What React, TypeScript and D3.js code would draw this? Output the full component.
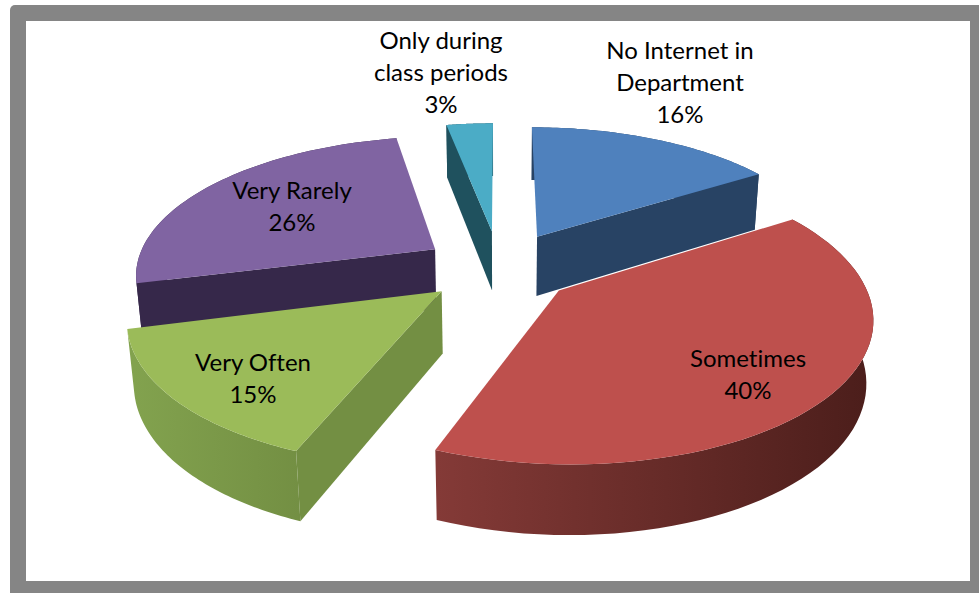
import React from "react";
import * as d3 from "d3";

// Share of respondents per answer, clockwise from twelve o'clock.
const categories = ["No Internet in Department", "Sometimes", "Very Often", "Very Rarely", "Only during class periods"];
const shares = [16, 40, 15, 26, 3];
const explosion = [0.27, 0.25, 0.25, 0.26, 0.28];
const labelLines = [["No Internet in", "Department", "16%"], ["Sometimes", "40%"], ["Very Often", "15%"], ["Very Rarely", "26%"], ["Only during", "class periods", "3%"]];

const topColors = ["#4f81bd", "#be504d", "#9bbb59", "#8064a2", "#4bacc6"];
const wallColors = ["#284364", "#6b2c2a", "#738f43", "#36284a", "#1f515e"];
const rimStops = [
  ["#284364", "#284364"],
  ["#843a37", "#4c1e1b"],
  ["#82a24e", "#738f43"],
  ["#36284a", "#36284a"],
  ["#1f515e", "#1f515e"],
];
const labelCenters = [[680, 59], [748, 367], [253, 371], [292, 199], [441, 49]];
const lineGap = 32;
const paintOrder = [4, 0, 3, 2, 1];

const W = 979, H = 593;
const view = { cx: 499.5, cy: 268, fx: 300, fy: 137, tilt: 0.165, depth: 62, sink: 0.018 };

type Pt = [number, number];

// Perspective projection of the pie plane; u runs right, v toward the viewer, z = 0 top, 1 bottom.
function project(u: number, v: number, z: number): Pt {
  const w = 1 - view.tilt * v + view.sink * z;
  return [view.cx + (view.fx * u) / w, view.cy + (view.fy * v + view.depth * z) / w];
}

const arcs = d3.pie<number>().sort(null).value((d) => d)(shares);
const toPath = d3.line<Pt>();

function slicePaths(i: number) {
  const { startAngle, endAngle } = arcs[i];
  const mid = (startAngle + endAngle) / 2;
  const ox = Math.sin(mid) * explosion[i];
  const oy = -Math.cos(mid) * explosion[i];
  const at = (a: number, r: number, z: number) => project(ox + r * Math.sin(a), oy - r * Math.cos(a), z);
  const angles = d3.range(0, 61).map((k) => startAngle + ((endAngle - startAngle) * k) / 60);
  const rimTop = angles.map((a) => at(a, 1, 0));
  const rimBottom = angles.map((a) => at(a, 1, 1));
  const top = [at(0, 0, 0), ...rimTop];
  const rim = [...rimTop, ...rimBottom.slice().reverse()];
  const wall = (a: number) => toPath([at(a, 0, 0), at(a, 1, 0), at(a, 1, 1), at(a, 0, 1)]) + "Z";
  const xs = rimBottom.map((p) => p[0]);
  // A cut face is drawn only when its outward normal leans toward the viewer.
  const walls: string[] = [];
  if (Math.sin(startAngle) < -1e-6) walls.push(wall(startAngle));
  if (Math.sin(endAngle) > 1e-6) walls.push(wall(endAngle));
  return {
    top: toPath(top) + "Z",
    rim: toPath(rim) + "Z",
    walls,
    x0: d3.min(xs) as number,
    x1: d3.max(xs) as number,
  };
}

export default function App() {
  const slices = shares.map((_, i) => slicePaths(i));
  return (
    <svg width={W} height={H} style={{ position: "absolute", left: 0, top: 0, display: "block", fontVariantLigatures: "none" }} fontFamily="Lato, Carlito, sans-serif">
      <defs>
        {slices.map((s, i) => (
          <linearGradient key={i} id={`rim-${i}`} gradientUnits="userSpaceOnUse" x1={s.x0} x2={s.x1} y1={0} y2={0}>
            <stop offset="0" stopColor={rimStops[i][0]} />
            <stop offset="1" stopColor={rimStops[i][1]} />
          </linearGradient>
        ))}
      </defs>
      <rect x={0} y={0} width={W} height={H} fill="#fff" />
      <rect x={10} y={5} width={W} height={H} rx={5} fill="#858585" />
      <rect x={26} y={21} width={944} height={560} fill="#fff" />
      {paintOrder.map((i) => (
        <g key={categories[i]}>
          <path d={slices[i].rim} fill={`url(#rim-${i})`} />
          {slices[i].walls.map((d, k) => (
            <path key={k} d={d} fill={wallColors[i]} />
          ))}
          <path d={slices[i].top} fill={topColors[i]} />
        </g>
      ))}
      {labelLines.map((lines, i) => (
        <text key={i} x={labelCenters[i][0]} y={labelCenters[i][1]} textAnchor="middle" fontSize={24} fill="#000">
          {lines.map((t, k) => (
            <tspan key={k} x={labelCenters[i][0]} y={labelCenters[i][1] + k * lineGap}>{t}</tspan>
          ))}
        </text>
      ))}
    </svg>
  );
}
